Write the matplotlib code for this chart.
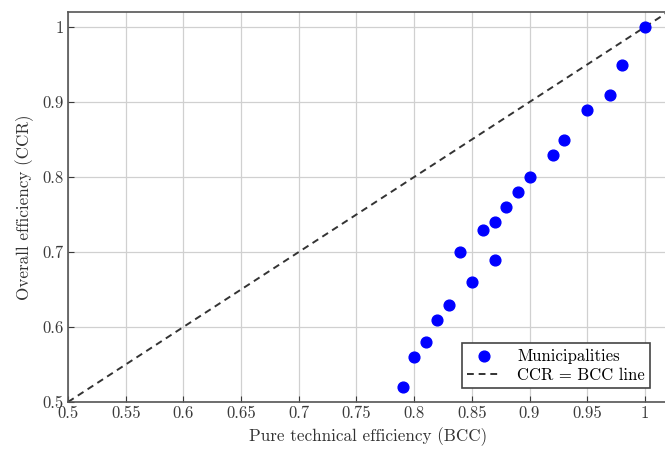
import matplotlib
matplotlib.use("Agg")
import matplotlib.pyplot as plt

plt.rcParams['font.family'] = ['cmr10', 'DejaVu Serif']
plt.rcParams['axes.formatter.use_mathtext'] = True

bcc = [0.79, 0.80, 0.81, 0.82, 0.83, 0.84, 0.85, 0.86, 0.87, 0.87, 0.88, 0.89, 0.90, 0.92, 0.93, 0.95, 0.97, 0.98, 1.00]
ccr = [0.52, 0.56, 0.58, 0.61, 0.63, 0.70, 0.66, 0.73, 0.74, 0.69, 0.76, 0.78, 0.80, 0.83, 0.85, 0.89, 0.91, 0.95, 1.00]
line_x = [0.5, 1.02]
xticks = [0.5, 0.55, 0.6, 0.65, 0.7, 0.75, 0.8, 0.85, 0.9, 0.95, 1.0]
xticklabels = ['0.5', '0.55', '0.6', '0.65', '0.7', '0.75', '0.8', '0.85', '0.9', '0.95', '1']
yticks = [0.5, 0.6, 0.7, 0.8, 0.9, 1.0]
yticklabels = ['0.5', '0.6', '0.7', '0.8', '0.9', '1']

fig = plt.figure(figsize=(6.65, 4.53), dpi=100)
ax = fig.add_axes([68/665, 51/453, 600/665, 390/453])
ax.set_xlim(0.5, 1.02)
ax.set_ylim(0.5, 1.02)
ax.grid(True, color='#d0d0d0', linewidth=0.9)
ax.set_axisbelow(True)
ax.scatter(bcc, ccr, s=60, color='#0000ff', zorder=3, label='Municipalities')
ax.plot(line_x, line_x, linestyle=(0, (3.5, 2.5)), color='#333333', linewidth=1.4, zorder=2, label='CCR = BCC line')
ax.set_xticks(xticks)
ax.set_xticklabels(xticklabels)
ax.set_yticks(yticks)
ax.set_yticklabels(yticklabels)
ax.tick_params(direction='in', length=4, labelsize=12, colors='#3a3a3a', pad=3)
for s in ax.spines.values():
    s.set_color('#555555')
    s.set_linewidth(1.2)
ax.set_xlabel('Pure technical efficiency (BCC)', fontsize=12.3, color='#333333', labelpad=4)
ax.set_ylabel('Overall efficiency (CCR)', fontsize=12.3, color='#333333', labelpad=6)
leg = ax.legend(loc='lower right', fontsize=12, fancybox=False, framealpha=1, edgecolor='#444444',
                handlelength=2.0, handletextpad=1.0, borderpad=0.3, labelspacing=0.25,
                borderaxespad=0)
leg.set_bbox_to_anchor((650/665, 65/453), transform=fig.transFigure)
leg.get_frame().set_linewidth(1.2)
fig.savefig('out.png', dpi=100)
